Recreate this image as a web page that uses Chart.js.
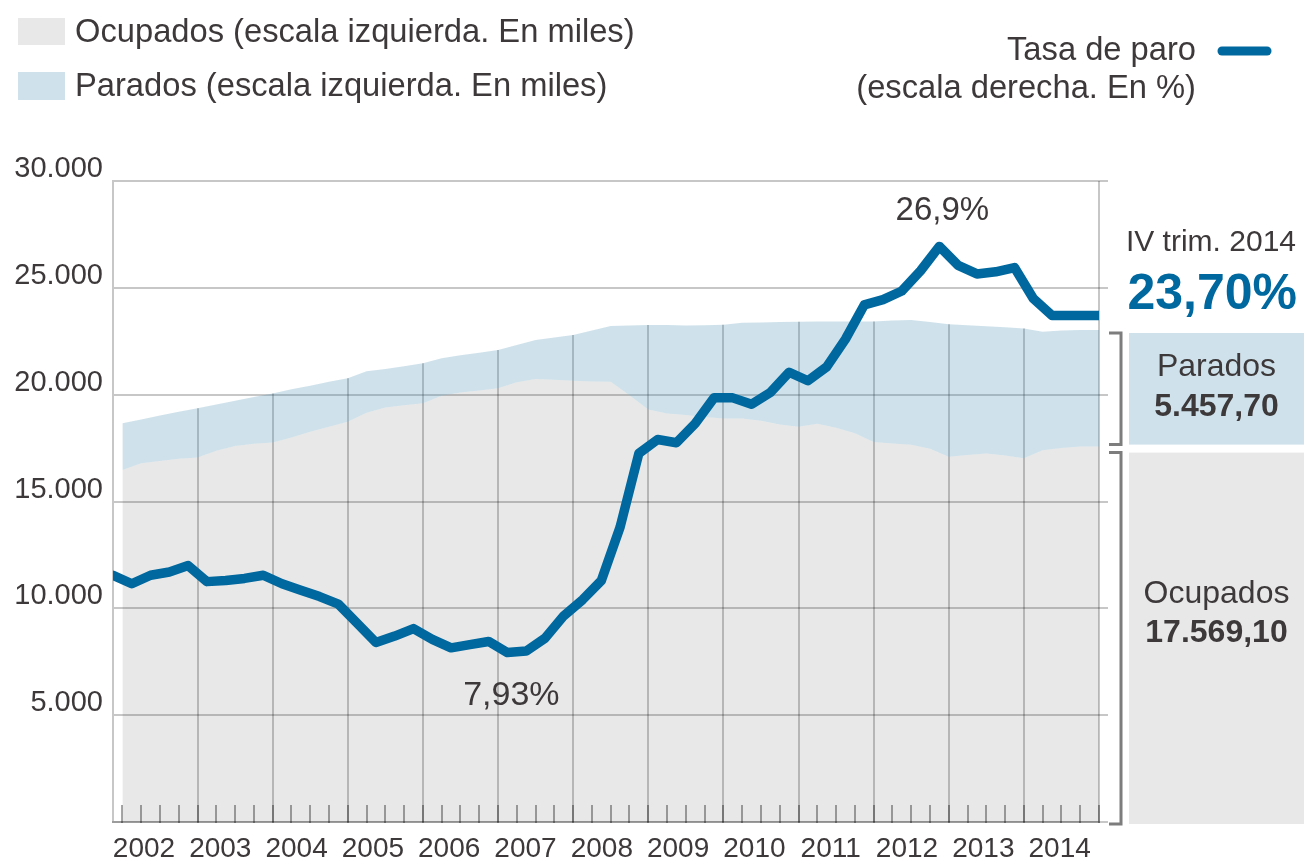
<!DOCTYPE html>
<html>
<head>
<meta charset="utf-8">
<script src="https://cdn.jsdelivr.net/npm/chart.js@4.4.1/dist/chart.umd.min.js"></script>
<style>
  html, body { margin: 0; padding: 0; background: #fff; }
  #wrap { position: relative; width: 1304px; height: 861px; }
</style>
</head>
<body>
<div id="wrap"><canvas id="chart" width="1304" height="861"></canvas></div>
<script>
// years shown on the bottom axis
const years = [2002, 2003, 2004, 2005, 2006, 2007, 2008, 2009, 2010, 2011, 2012, 2013, 2014];

// tasa de paro, % (one value per quarter, 2002T1 .. 2014T4)
const tasaParo = [
	11.55, 11.15, 11.55, 11.7,
	12.0, 11.25, 11.3, 11.4,
	11.55, 11.15, 10.85, 10.55,
	10.2, 9.3, 8.4, 8.7,
	9.05, 8.55, 8.15, 8.3,
	8.45, 7.93, 8.0, 8.6,
	9.65, 10.4, 11.3, 13.8,
	17.25, 17.9, 17.75, 18.65,
	19.85, 19.85, 19.55, 20.1,
	21.05, 20.65, 21.3, 22.6,
	24.2, 24.45, 24.85, 25.8,
	26.94, 26.05, 25.65, 25.75,
	25.95, 24.5, 23.7, 23.70
];

// ocupados, miles
const ocupados = [
	16480, 16790, 16900, 17000,
	17060, 17380, 17600, 17700,
	17760, 18000, 18260, 18500,
	18730, 19150, 19400, 19500,
	19600, 19950, 20100, 20200,
	20300, 20580, 20730, 20700,
	20650, 20620, 20600, 19970,
	19300, 19120, 19050, 18950,
	18890, 18890, 18780, 18600,
	18500, 18640, 18450, 18190,
	17790, 17720, 17660, 17470,
	17100, 17180, 17250, 17150,
	17020, 17400, 17500, 17569.1
];

// parados, miles
const parados = [
	2180, 2050, 2120, 2200,
	2300, 2160, 2120, 2190,
	2300, 2250, 2160, 2100,
	2035, 1950, 1800, 1830,
	1870, 1750, 1750, 1760,
	1790, 1740, 1830, 1980,
	2140, 2380, 2610, 3270,
	3960, 4140, 4190, 4300,
	4380, 4470, 4600, 4800,
	4910, 4780, 4970, 5230,
	5630, 5750, 5830, 5930,
	6200, 6070, 5950, 6000,
	6080, 5550, 5500, 5457.7
];

const leftTicks = [0, 5000, 10000, 15000, 20000, 25000, 30000];
const rightTicks = [0, 5, 10, 15, 20, 25, 30];

const TEXT = '#3d393b';
const LINE = '#00689e';
const GRID = 'rgba(0,0,0,0.22)';
const TICK = 'rgba(0,0,0,0.35)';
const FONT = '"Liberation Sans", Arial, Helvetica, sans-serif';

const X_MAX = 52.5; // right edge of the plot, in quarters (line starts at 0)
const AREA_SHIFT = 0.5; // areas are drawn half a quarter to the right of the line
const LABEL_MIN = 2001.594, LABEL_MAX = 2014.516; // year label axis span

const fmtEs = (v, dec) => {
	let parts = v.toFixed(dec).split('.');
	parts[0] = parts[0].replace(/\B(?=(\d{3})+(?!\d))/g, '.');
	return parts.join(',');
};

const last = tasaParo.length - 1;
const lineData = tasaParo.map((v, i) => ({ x: i, y: v })).concat([{ x: X_MAX, y: tasaParo[last] }]);
const areaPts = (arr) =>
	arr.map((v, i) => ({ x: i + AREA_SHIFT, y: v })).concat([{ x: X_MAX, y: arr[arr.length - 1] }]);

// quarter boundaries: short ticks, full line only at the right edge
const quarterTicks = [];
for (let k = 0; k <= 52; k++) quarterTicks.push(k + 0.5);

const decor = {
	id: 'decor',
	beforeDatasetsDraw(chart) {
		// year lines only go up to the top of the areas
		const { ctx } = chart;
		const x = chart.scales.x, y = chart.scales.y;
		ctx.save();
		ctx.strokeStyle = GRID;
		ctx.lineWidth = 2;
		for (let k = 4; k < ocupados.length; k += 4) {
			const px = Math.round(x.getPixelForValue(k + AREA_SHIFT));
			ctx.beginPath();
			ctx.moveTo(px, y.getPixelForValue(0));
			ctx.lineTo(px, y.getPixelForValue(ocupados[k] + parados[k]));
			ctx.stroke();
		}
		ctx.restore();
	},
	afterDatasetsDraw(chart) {
		const { ctx } = chart;
		const x = chart.scales.x, y1 = chart.scales.y1;
		const iMax = tasaParo.indexOf(Math.max(...tasaParo));
		const iMin = tasaParo.indexOf(Math.min(...tasaParo));
		ctx.save();
		ctx.fillStyle = TEXT;
		ctx.textAlign = 'center';
		ctx.textBaseline = 'alphabetic';
		ctx.font = `33px ${FONT}`;
		ctx.fillText(fmtEs(tasaParo[iMax], 1) + '%', x.getPixelForValue(iMax) + 3, y1.getPixelForValue(tasaParo[iMax]) - 26);
		ctx.font = `34px ${FONT}`;
		ctx.fillText(fmtEs(tasaParo[iMin], 2) + '%', x.getPixelForValue(iMin) + 4, y1.getPixelForValue(tasaParo[iMin]) + 52);
		ctx.restore();
	},
	afterDraw(chart) {
		const { ctx, chartArea } = chart;
		const y = chart.scales.y, y1 = chart.scales.y1;
		const n = ocupados.length - 1;
		ctx.save();
		ctx.textBaseline = 'alphabetic';

		// legend, left
		ctx.fillStyle = '#e8e8e8';
		ctx.fillRect(18, 18, 47, 27);
		ctx.fillStyle = '#cfe2eb';
		ctx.fillRect(18, 72, 47, 28);
		ctx.fillStyle = TEXT;
		ctx.font = `32.7px ${FONT}`;
		ctx.textAlign = 'left';
		ctx.fillText('Ocupados (escala izquierda. En miles)', 75, 42);
		ctx.fillText('Parados (escala izquierda. En miles)', 75, 96);

		// legend, right
		ctx.textAlign = 'right';
		ctx.fillText('Tasa de paro', 1196, 60);
		ctx.fillText('(escala derecha. En %)', 1196, 98);
		ctx.strokeStyle = LINE;
		ctx.lineWidth = 9;
		ctx.lineCap = 'round';
		ctx.beginPath();
		ctx.moveTo(1222, 51);
		ctx.lineTo(1267, 51);
		ctx.stroke();

		// last value of the rate
		const yRate = y1.getPixelForValue(tasaParo[last]);
		ctx.fillStyle = TEXT;
		ctx.font = `30px ${FONT}`;
		ctx.fillText('IV trim. ' + years[years.length - 1], 1296, yRate - 65);
		ctx.fillStyle = LINE;
		ctx.font = `bold 50px ${FONT}`;
		ctx.fillText(fmtEs(tasaParo[last], 2) + '%', 1297, yRate - 7);

		// boxes with the last values
		const yTot = y.getPixelForValue(ocupados[n] + parados[n]);
		const yOcu = y.getPixelForValue(ocupados[n]);
		const yZero = y.getPixelForValue(0);
		const boxL = chartArea.right + 30, boxR = chart.width;
		const pTop = yTot + 3, pBot = yOcu - 2, oTop = yOcu + 6, oBot = yZero + 2;
		ctx.fillStyle = '#cfe2eb';
		ctx.fillRect(boxL, pTop, boxR - boxL, pBot - pTop);
		ctx.fillStyle = '#e8e8e8';
		ctx.fillRect(boxL, oTop, boxR - boxL, oBot - oTop);

		ctx.strokeStyle = '#7d7d7d';
		ctx.lineWidth = 3;
		ctx.lineCap = 'butt';
		const bx = chartArea.right + 22;
		[[pTop, pBot], [oTop, oBot]].forEach(([t, b]) => {
			ctx.beginPath();
			ctx.moveTo(bx - 12, t);
			ctx.lineTo(bx, t);
			ctx.lineTo(bx, b);
			ctx.lineTo(bx - 12, b);
			ctx.stroke();
		});

		const cx = (boxL + boxR) / 2;
		ctx.textAlign = 'center';
		ctx.fillStyle = TEXT;
		ctx.font = `32px ${FONT}`;
		ctx.fillText('Parados', cx, pTop + 43);
		ctx.fillText('Ocupados', cx, oTop + 150);
		ctx.font = `bold 32px ${FONT}`;
		ctx.fillText(fmtEs(parados[n], 2), cx, pTop + 83);
		ctx.fillText(fmtEs(ocupados[n], 2), cx, oTop + 189);
		ctx.restore();
	}
};

Chart.defaults.font.family = FONT;
Chart.defaults.color = TEXT;

new Chart(document.getElementById('chart'), {
	type: 'line',
	data: {
		datasets: [
			{
				label: 'Ocupados',
				data: areaPts(ocupados),
				xAxisID: 'x',
				yAxisID: 'y',
				backgroundColor: 'rgba(0,0,0,0.09)',
				borderWidth: 0,
				pointRadius: 0,
				fill: 'origin',
				order: 2,
			},
			{
				label: 'Parados',
				data: areaPts(parados),
				xAxisID: 'x',
				yAxisID: 'y',
				backgroundColor: 'rgba(63,139,175,0.25)',
				borderWidth: 0,
				pointRadius: 0,
				fill: '-1',
				order: 2,
			},
			{
				label: 'Tasa de paro',
				data: lineData,
				xAxisID: 'x',
				yAxisID: 'y1',
				borderColor: LINE,
				borderWidth: 9.5,
				borderCapStyle: 'round',
				borderJoinStyle: 'round',
				pointRadius: 0,
				fill: false,
				tension: 0,
				order: 1,
			},
		],
	},
	options: {
		responsive: false,
		devicePixelRatio: 1,
		animation: false,
		layout: { padding: { top: 181, left: 0, right: 0, bottom: 0 } },
		plugins: { legend: { display: false }, tooltip: { enabled: false } },
		scales: {
			x: {
				type: 'linear',
				position: 'bottom',
				weight: 0,
				min: 0,
				max: X_MAX,
				afterBuildTicks: (s) => { s.ticks = quarterTicks.map((v) => ({ value: v })); },
				afterFit: (s) => { s.height = 0; },
				ticks: { display: false },
				grid: {
					color: (c) => (c.tick && c.tick.value === X_MAX ? GRID : 'transparent'),
					tickColor: TICK,
					lineWidth: 2,
					tickWidth: 2,
					drawTicks: true,
					tickLength: -17,
				},
				border: { display: true, color: GRID, width: 2 },
			},
			xl: {
				type: 'linear',
				position: 'bottom',
				weight: 1,
				min: LABEL_MIN,
				max: LABEL_MAX,
				afterBuildTicks: (s) => { s.ticks = years.map((v) => ({ value: v })); },
				afterFit: (s) => { s.height = 39; },
				ticks: { callback: (v) => String(v), font: { size: 28 }, color: TEXT, padding: 10, maxRotation: 0, autoSkip: false },
				grid: { display: false, drawTicks: false },
				border: { display: false },
			},
			y: {
				type: 'linear',
				position: 'left',
				stacked: true,
				min: 0,
				max: 30000,
				afterBuildTicks: (s) => { s.ticks = leftTicks.map((v) => ({ value: v })); },
				afterFit: (s) => { s.width = 113; },
				ticks: {
					callback: (v) => (v === 0 ? '' : fmtEs(v, 0)),
					font: { size: 29 },
					color: TEXT,
					padding: 10,
					labelOffset: -12,
				},
				grid: { color: GRID, lineWidth: 2, drawTicks: false },
				border: { display: true, color: GRID, width: 2 },
			},
			y1: {
				type: 'linear',
				position: 'right',
				min: 0,
				max: 30,
				afterBuildTicks: (s) => { s.ticks = rightTicks.map((v) => ({ value: v })); },
				afterFit: (s) => { s.width = 205; },
				ticks: { display: false },
				grid: { drawOnChartArea: false, drawTicks: true, tickLength: 9, color: GRID, lineWidth: 2 },
				border: { display: false },
			},
		},
	},
	plugins: [decor],
});
</script>
</body>
</html>
